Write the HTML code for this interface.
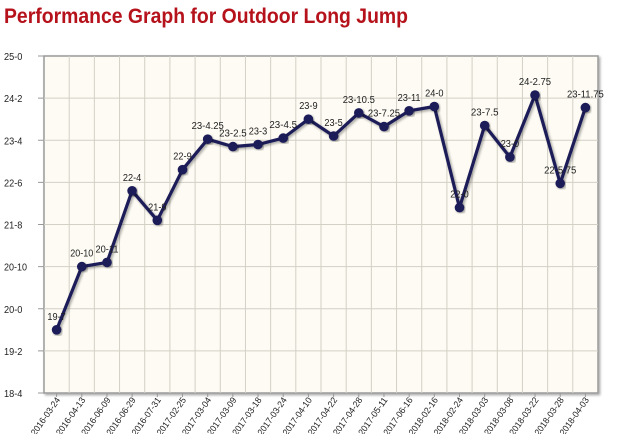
<!DOCTYPE html>
<html><head><meta charset="utf-8"><style>
html,body{margin:0;padding:0;background:#fff;width:620px;height:434px;overflow:hidden}
svg{display:block;font-family:"Liberation Sans",sans-serif}
</style></head><body>
<svg id="s" width="620" height="434" viewBox="0 0 620 434" xmlns="http://www.w3.org/2000/svg">
<defs><filter id="sh" x="-10%" y="-10%" width="120%" height="120%"><feDropShadow dx="1.5" dy="1.5" stdDeviation="1.2" flood-color="#000" flood-opacity="0.35"/></filter></defs>
<text x="4" y="23" font-size="21" font-weight="bold" fill="#b5121b" textLength="404" lengthAdjust="spacingAndGlyphs">Performance Graph for Outdoor Long Jump</text>
<rect x="44" y="56" width="554" height="337" fill="#fdfbf3" stroke="#999" stroke-width="1.5" filter="url(#sh)"/>
<g id="g"></g>
</svg>
<script>
var g=document.getElementById('g'),h='';
var L=44,R=598,T=56,B=393,ppi=(B-T)/80,dx=(R-L)/22;
function Y(v){return B-(v-220)*ppi}
for(var i=1;i<22;i++){var x=L+dx*i;h+='<line x1="'+x+'" y1="'+T+'" x2="'+x+'" y2="'+B+'" stroke="#d3d0c6" stroke-width="1"/>';}
var yl=['25-0','24-2','23-4','22-6','21-8','20-10','20-0','19-2','18-4'];
for(var k=0;k<9;k++){var y=T+k*(B-T)/8;if(k>0&&k<8)h+='<line x1="'+L+'" y1="'+y+'" x2="'+R+'" y2="'+y+'" stroke="#d3d0c6"/>';
h+='<line x1="38" y1="'+y+'" x2="'+L+'" y2="'+y+'" stroke="#999"/>';
h+='<text x="4" y="'+(y+4)+'" font-size="10" fill="#222" textLength="'+(yl[k].length*4.6)+'" lengthAdjust="spacingAndGlyphs">'+yl[k]+'</text>';}
var d=['2016-03-24','2016-04-13','2016-06-09','2016-06-29','2016-07-31','2017-02-25','2017-03-04','2017-03-09','2017-03-18','2017-03-24','2017-04-10','2017-04-22','2017-04-28','2017-05-11','2017-06-16','2018-02-16','2018-02-24','2018-03-03','2018-03-08','2018-03-22','2018-03-28','2018-04-03'];
var v=[235,250,251,268,261,273,280.25,278.5,279,280.5,285,281,286.5,283.25,287,288,264,283.5,276,290.75,269.75,287.75];
var lb=['19-7','20-10','20-11','22-4','21-9','22-9','23-4.25','23-2.5','23-3','23-4.5','23-9','23-5','23-10.5','23-7.25','23-11','24-0','22-0','23-7.5','23-0','24-2.75','22-5.75','23-11.75'];
var pts=[];
for(var i=0;i<22;i++){var x=L+dx*(i+.5),y=Y(v[i]);pts.push(x.toFixed(1)+','+y.toFixed(1));
h+='<line x1="'+x+'" y1="'+B+'" x2="'+x+'" y2="'+(B+4)+'" stroke="#999"/>';
h+='<text transform="translate('+(x+4)+','+(B+7)+') rotate(-55)" text-anchor="end" font-size="9" fill="#222" textLength="44" lengthAdjust="spacingAndGlyphs">'+d[i]+'</text>';}
h+='<polyline points="'+pts.join(' ')+'" fill="none" stroke="#1c1a58" stroke-width="3.2" stroke-linejoin="round" filter="url(#sh)"/>';
for(var i=0;i<22;i++){var p=pts[i].split(',');h+='<circle cx="'+p[0]+'" cy="'+p[1]+'" r="4.8" fill="#1c1a58" filter="url(#sh)"/>';
h+='<text x="'+p[0]+'" y="'+(p[1]-10)+'" text-anchor="middle" font-size="10" fill="#222" textLength="'+(lb[i].length*4.6)+'" lengthAdjust="spacingAndGlyphs">'+lb[i]+'</text>';}
g.innerHTML=h;
</script>
</body></html>
